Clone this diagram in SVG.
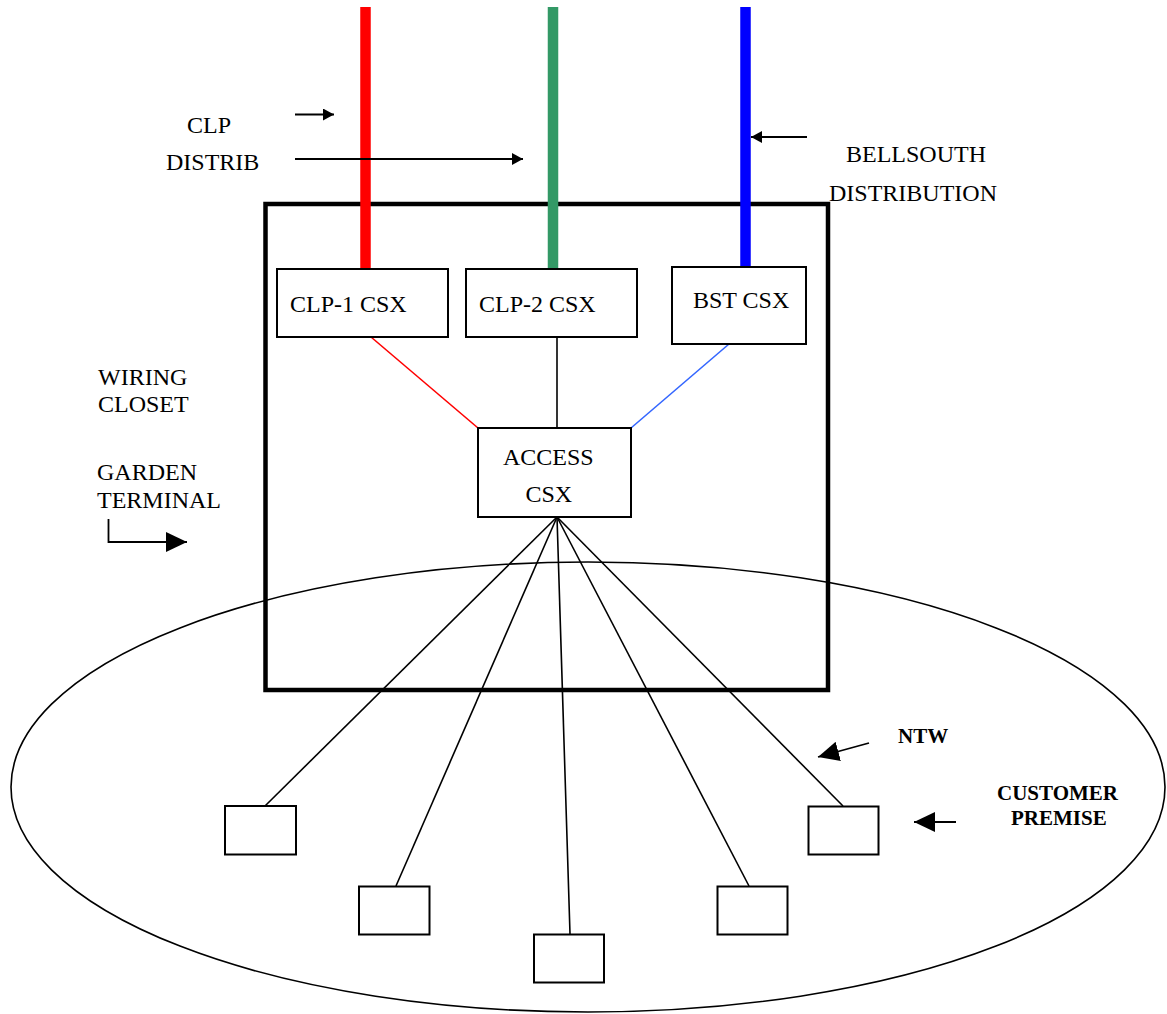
<svg xmlns="http://www.w3.org/2000/svg" width="1167" height="1014" viewBox="0 0 1167 1014">
  <style>
    .lbl { font-family: "Liberation Serif", "Times New Roman", serif; font-size: 24px; fill: #000; }
    .bold { font-family: "Liberation Serif", "Times New Roman", serif; font-size: 21px; font-weight: bold; fill: #000; }
    .box { fill: #fff; stroke: #000; stroke-width: 2; }
    .wire { stroke: #000; stroke-width: 1.6; fill: none; }
    .ptr { stroke: #000; stroke-width: 1.8; fill: none; }
  </style>
  <defs>
    <marker id="tipS" markerUnits="userSpaceOnUse" markerWidth="12" markerHeight="12" refX="11" refY="6" orient="auto">
      <path d="M0,0 L11,6 L0,12 Z" fill="#000"/>
    </marker>
    <marker id="tipL" markerUnits="userSpaceOnUse" markerWidth="22" markerHeight="20" refX="21" refY="10" orient="auto">
      <path d="M0,0 L21,10 L0,20 Z" fill="#000"/>
    </marker>
  </defs>

  <rect width="1167" height="1014" fill="#fff"/>

  <!-- customer premise boundary -->
  <ellipse cx="588" cy="787" rx="577" ry="225" fill="none" stroke="#000" stroke-width="1.6"/>

  <!-- wiring closet / garden terminal enclosure -->
  <rect x="265.5" y="204" width="562.5" height="486" fill="none" stroke="#000" stroke-width="4.5"/>

  <!-- distribution feeds -->
  <g id="feeds">
    <line x1="365.5" y1="7" x2="365.5" y2="269" stroke="#ff0000" stroke-width="10.5"/>
    <line x1="553" y1="7" x2="553" y2="269" stroke="#339966" stroke-width="10.5"/>
    <line x1="745.5" y1="7" x2="745.5" y2="267" stroke="#0000ff" stroke-width="10.5"/>
  </g>

  <g id="connectors">
    <line x1="371" y1="337" x2="478" y2="428" stroke="#ff0000" stroke-width="1.6"/>
    <line x1="557" y1="337" x2="557" y2="428" class="wire"/>
    <line x1="729" y1="344" x2="631" y2="428" stroke="#3366ff" stroke-width="1.6"/>
    <line x1="557" y1="517" x2="265" y2="806" class="wire"/>
    <line x1="557" y1="517" x2="396" y2="886" class="wire"/>
    <line x1="557" y1="517" x2="570" y2="934" class="wire"/>
    <line x1="557" y1="517" x2="749" y2="886" class="wire"/>
    <line x1="557" y1="517" x2="843" y2="806" class="wire"/>
  </g>

  <g id="clp1-csx">
    <rect class="box" x="277" y="269" width="171" height="68"/>
    <text class="lbl" x="290" y="311.5">CLP-1 CSX</text>
  </g>
  <g id="clp2-csx">
    <rect class="box" x="466" y="269" width="171" height="68"/>
    <text class="lbl" x="479" y="311.5">CLP-2 CSX</text>
  </g>
  <g id="bst-csx">
    <rect class="box" x="672" y="267" width="134" height="77"/>
    <text class="lbl" x="693" y="307.5">BST CSX</text>
  </g>
  <g id="access-csx">
    <rect class="box" x="478" y="428" width="153" height="89"/>
    <text class="lbl" x="503" y="465">ACCESS</text>
    <text class="lbl" x="525.5" y="501.5">CSX</text>
  </g>

  <g id="ntw-1"><rect class="box" x="225" y="806" width="71" height="48.5"/></g>
  <g id="ntw-2"><rect class="box" x="359" y="886.5" width="70.5" height="48"/></g>
  <g id="ntw-3"><rect class="box" x="534" y="934.5" width="70" height="48"/></g>
  <g id="ntw-4"><rect class="box" x="717.5" y="886.5" width="70" height="48"/></g>
  <g id="ntw-5"><rect class="box" x="808.5" y="806.5" width="70" height="48"/></g>

  <!-- annotations -->
  <g id="clp-distrib">
    <text class="lbl" x="187" y="133">CLP</text>
    <text class="lbl" x="166" y="170">DISTRIB</text>
    <line class="ptr" x1="295" y1="114.5" x2="334" y2="114.5" marker-end="url(#tipS)"/>
    <line class="ptr" x1="295" y1="159" x2="523" y2="159" marker-end="url(#tipS)"/>
  </g>
  <g id="bellsouth-distribution">
    <text class="lbl" x="846" y="162">BELLSOUTH</text>
    <text class="lbl" x="829" y="200.5">DISTRIBUTION</text>
    <line class="ptr" x1="807" y1="137" x2="751" y2="137" marker-end="url(#tipS)"/>
  </g>
  <g id="wiring-closet">
    <text class="lbl" x="98" y="385">WIRING</text>
    <text class="lbl" x="98" y="411.5">CLOSET</text>
  </g>
  <g id="garden-terminal">
    <text class="lbl" x="97" y="480">GARDEN</text>
    <text class="lbl" x="97" y="508">TERMINAL</text>
    <polyline class="ptr" points="108.5,519 108.5,542 187,542" marker-end="url(#tipL)"/>
  </g>
  <g id="ntw">
    <text class="bold" x="898" y="743">NTW</text>
    <line class="ptr" x1="869" y1="743" x2="818" y2="757" marker-end="url(#tipL)"/>
  </g>
  <g id="customer-premise">
    <text class="bold" x="997" y="800">CUSTOMER</text>
    <text class="bold" x="1011" y="824.5">PREMISE</text>
    <line class="ptr" x1="956" y1="822" x2="914" y2="822" marker-end="url(#tipL)"/>
  </g>
</svg>
